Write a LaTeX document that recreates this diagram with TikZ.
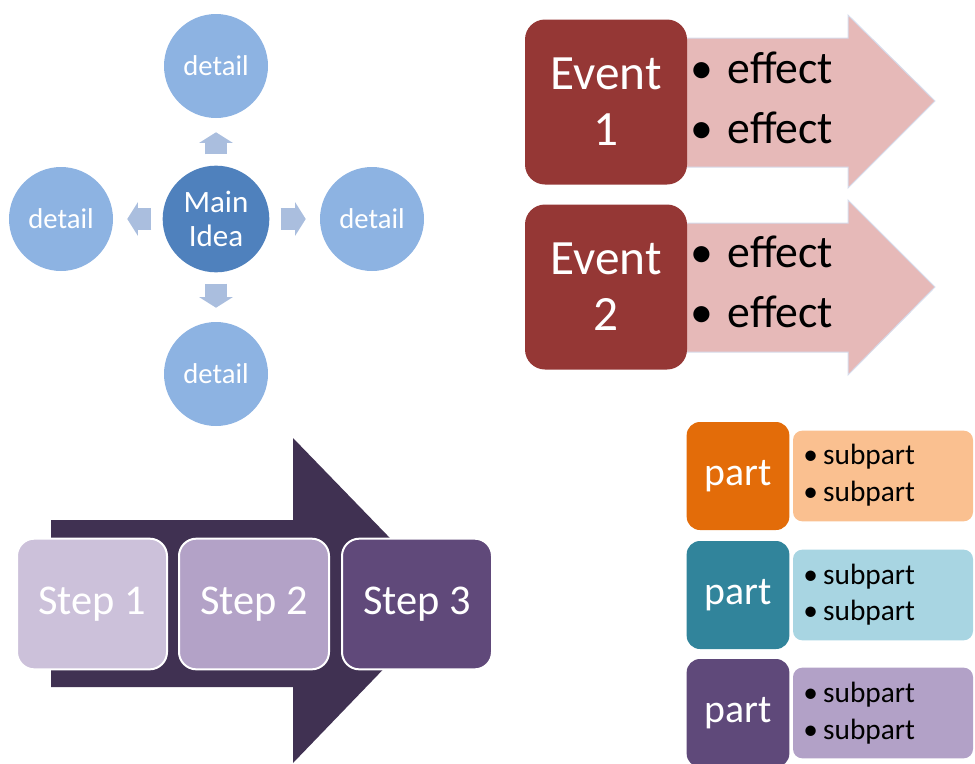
\documentclass[tikz,border=0pt]{standalone}
\usepackage{fontspec}
\setmainfont{Carlito}
\usetikzlibrary{arrows.meta}

\definecolor{detailblue}{RGB}{141,179,226}
\definecolor{mainblue}{RGB}{79,129,189}
\definecolor{linkblue}{RGB}{170,190,222}
\definecolor{eventred}{RGB}{149,55,53}
\definecolor{effectpink}{RGB}{230,185,184}
\definecolor{effectline}{RGB}{214,220,236}
\definecolor{steparrow}{RGB}{64,49,82}
\definecolor{stepa}{RGB}{204,193,218}
\definecolor{stepb}{RGB}{179,162,199}
\definecolor{stepc}{RGB}{96,73,122}
\definecolor{partorange}{RGB}{227,108,9}
\definecolor{suborange}{RGB}{250,192,144}
\definecolor{partteal}{RGB}{49,132,155}
\definecolor{subteal}{RGB}{168,213,226}
\definecolor{partpurple}{RGB}{95,73,122}
\definecolor{subpurple}{RGB}{178,161,199}

\begin{document}
\begin{tikzpicture}[x=0.75pt, y=-0.75pt]
		\tikzstyle{every node}=[align=center, inner sep=0pt]
		\tikzstyle{detail}=[circle, fill=detailblue, minimum size=78pt, text=white, font=\fontsize{21.5}{24}\selectfont]
		\tikzstyle{mainidea}=[circle, fill=mainblue, minimum size=80pt, text=white, font=\fontsize{23.3}{25}\selectfont]
		\tikzstyle{link}=[draw=linkblue, line width=16pt, -{Triangle[length=8pt, width=25pt]}, shorten <=8.25pt, shorten >=10.5pt]
		\tikzstyle{event}=[rounded corners=15pt, fill=eventred, minimum width=121.5pt, minimum height=123.75pt, text=white, font=\fontsize{37}{42}\selectfont]
		\tikzstyle{effect}=[anchor=west, font=\fontsize{34.3}{40}\selectfont]
		\tikzstyle{stepbox}=[rounded corners=13pt, draw=white, line width=1.5pt, minimum width=112.5pt, minimum height=98pt, text=white, font=\fontsize{31.8}{36}\selectfont]
		\tikzstyle{part}=[rounded corners=10pt, minimum width=77pt, minimum height=81pt, text=white, font=\fontsize{29.8}{34}\selectfont]
		\tikzstyle{subbox}=[rounded corners=7pt, minimum width=135pt, minimum height=68pt]
		\tikzstyle{subpart}=[anchor=west, font=\fontsize{22}{26}\selectfont]

		\useasboundingbox (0, 0) rectangle (975, 764);

		\node[mainidea] (main) at (216, 219) {Main\\Idea};
		\node[detail] (top) at (216, 66) {detail};
		\node[detail] (left) at (61, 219) {detail};
		\node[detail] (right) at (372, 219) {detail};
		\node[detail] (bottom) at (216, 374) {detail};

		\draw [link] (main) -- (top);
		\draw [link] (main) -- (left);
		\draw [link] (main) -- (right);
		\draw [link] (main) -- (bottom);

		\fill [effectpink, draw=effectline, line width=0.75pt] (680, 38) -- (848, 38) -- (848, 15) -- (935, 101) -- (848, 188) -- (848, 167) -- (680, 167) -- cycle;
		\fill [effectpink, draw=effectline, line width=0.75pt] (680, 223) -- (848, 223) -- (848, 200) -- (935, 287) -- (848, 375) -- (848, 352) -- (680, 352) -- cycle;
		\node[event] (ev1) at (606, 102) {Event\\1};
		\node[event] (ev2) at (606, 287) {Event\\2};
		\node[effect] (ef1a) at (690, 68) {\textbullet\hspace{11pt}effect};
		\node[effect] (ef1b) at (690, 128) {\textbullet\hspace{11pt}effect};
		\node[effect] (ef2a) at (690, 252) {\textbullet\hspace{11pt}effect};
		\node[effect] (ef2b) at (690, 312) {\textbullet\hspace{11pt}effect};

		\fill [steparrow] (51, 520) -- (293, 520) -- (293, 438) -- (450, 600) -- (293, 763) -- (293, 687) -- (51, 687) -- cycle;
		\node[stepbox, fill=stepa] (s1) at (92, 604) {Step 1};
		\node[stepbox, fill=stepb] (s2) at (254, 604) {Step 2};
		\node[stepbox, fill=stepc] (s3) at (417, 604) {Step 3};

		\node[subbox, fill=suborange] (sub1) at (883, 476) {};
		\node[subbox, fill=subteal] (sub2) at (883, 595) {};
		\node[subbox, fill=subpurple] (sub3) at (883, 713) {};
		\node[part, fill=partorange] (p1) at (738, 476) {part};
		\node[part, fill=partteal] (p2) at (738, 595) {part};
		\node[part, fill=partpurple] (p3) at (738, 713) {part};
		\node[subpart] (sp1a) at (803, 457) {\textbullet\hspace{4pt}subpart};
		\node[subpart] (sp1b) at (803, 494) {\textbullet\hspace{4pt}subpart};
		\node[subpart] (sp2a) at (803, 577) {\textbullet\hspace{4pt}subpart};
		\node[subpart] (sp2b) at (803, 613) {\textbullet\hspace{4pt}subpart};
		\node[subpart] (sp3a) at (803, 695) {\textbullet\hspace{4pt}subpart};
		\node[subpart] (sp3b) at (803, 732) {\textbullet\hspace{4pt}subpart};
	\end{tikzpicture}
\end{document}
